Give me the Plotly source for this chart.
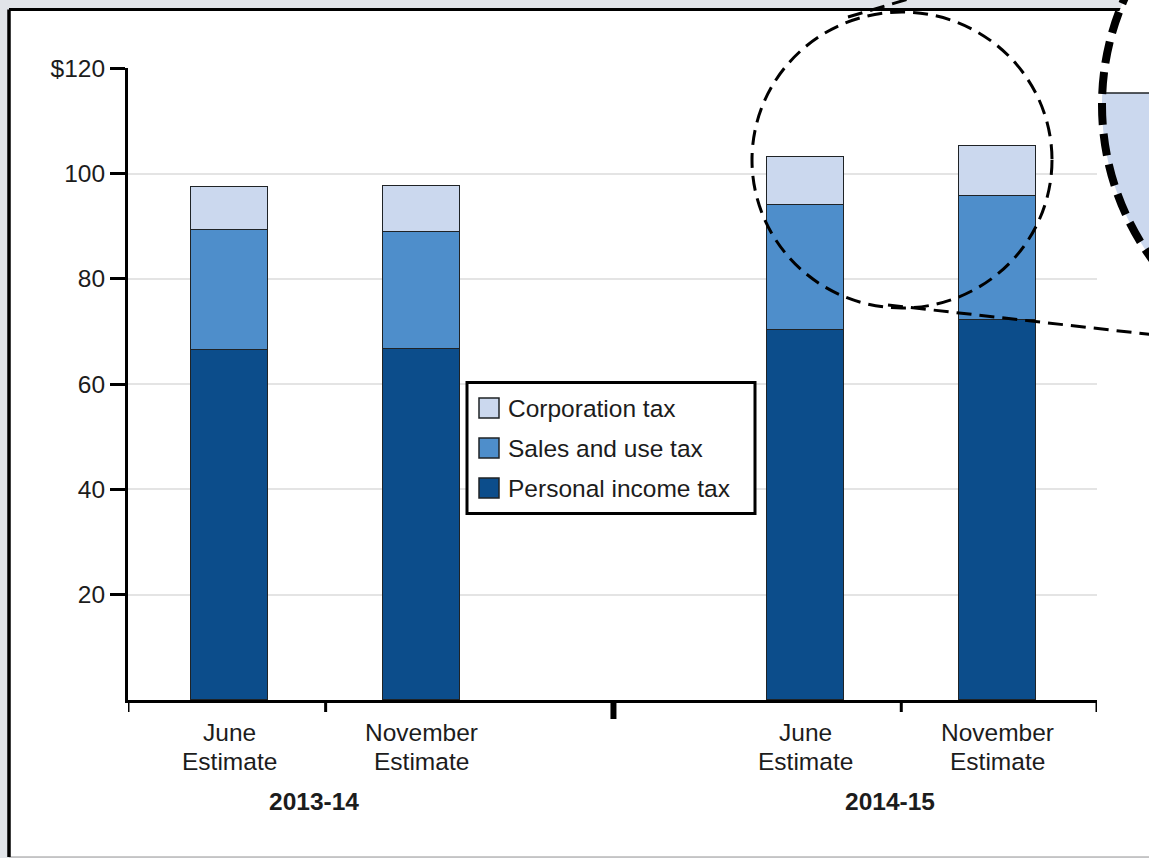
import plotly.graph_objects as go
import numpy as np

# ---- data ----
estimates = ["June<br>Estimate", "November<br>Estimate", "June<br>Estimate", "November<br>Estimate"]
fiscal_years = ["2013-14", "2014-15"]
personal_income_tax = [66.5, 66.6, 70.2, 72.1]
sales_and_use_tax = [22.7, 22.3, 23.8, 23.6]
corporation_tax = [8.2, 8.7, 9.1, 9.5]
ytick_vals = [20, 40, 60, 80, 100, 120]
ytick_text = ["20", "40", "60", "80", "100", "$120"]

# ---- styling ----
C_PIT = "#0c4d8b"
C_SALES = "#4e8ecb"
C_CORP = "#cbd8ee"
OUTLINE = "#1f2326"
PAGE = "#e1e4e9"
FONT = "Liberation Sans, Arial, Helvetica, sans-serif"
TXT = "#1c1c1c"
FS = 24.5

W, H = 1149, 858
L, R, T, B = 128, 1097, 68, 700  # plot area in pixels


def px(x):
    return (x - L) / (R - L)


def py(y):
    return (B - y) / (B - T)


# positions: two groups with a gap slot between them
pos = [i + (1 if i >= 2 else 0) for i in range(len(estimates))]
xr = [-0.53, 4.52]

fig = go.Figure()
for name, vals, col in [("Personal income tax", personal_income_tax, C_PIT),
                        ("Sales and use tax", sales_and_use_tax, C_SALES),
                        ("Corporation tax", corporation_tax, C_CORP)]:
    fig.add_trace(go.Bar(x=pos, y=vals, name=name, width=0.4,
                         marker=dict(color=col, line=dict(color=OUTLINE, width=1.5)),
                         showlegend=False))

shapes = []
annotations = []

# white frame on grey page
shapes.append(dict(type="rect", xref="paper", yref="paper", layer="below",
                   x0=px(9), x1=px(1250), y0=py(9.5), y1=py(857),
                   fillcolor="white", line=dict(width=0)))
shapes.append(dict(type="line", xref="paper", yref="paper", layer="below",
                   x0=px(9), x1=px(1250), y0=py(857), y1=py(857),
                   line=dict(color="#b8b8b8", width=1.5)))
shapes.append(dict(type="line", xref="paper", yref="paper", layer="below",
                   x0=px(9), x1=px(9), y0=py(9.5), y1=py(857),
                   line=dict(color="black", width=3.5)))
shapes.append(dict(type="line", xref="paper", yref="paper", layer="below",
                   x0=px(9), x1=px(1150), y0=py(9.5), y1=py(9.5),
                   line=dict(color="black", width=3)))

# x-axis ticks at group boundaries
bounds = [xr[0], (pos[0] + pos[1]) / 2, (pos[1] + pos[2]) / 2, (pos[2] + pos[3]) / 2, xr[1]]
for i, b in enumerate(bounds):
    thick = (i == 2)
    shapes.append(dict(type="line", xref="x", yref="paper",
                       x0=b, x1=b, y0=py(700), y1=py(719 if thick else 712),
                       line=dict(color="black", width=6 if thick else 3)))

# category labels
for p, lab in zip(pos, estimates):
    top, bot = lab.split("<br>")
    annotations.append(dict(x=p, xref="x", y=py(732), yref="paper", text=top,
                            showarrow=False, xanchor="center", yanchor="middle",
                            font=dict(family=FONT, size=FS, color=TXT)))
    annotations.append(dict(x=p, xref="x", y=py(761), yref="paper", text=bot,
                            showarrow=False, xanchor="center", yanchor="middle",
                            font=dict(family=FONT, size=FS, color=TXT)))
# fiscal year labels
groups = [(pos[0], pos[1]), (pos[2], pos[3])]
for (a, b), yr in zip(groups, fiscal_years):
    annotations.append(dict(x=(a + b) / 2 - 0.06, xref="x", y=py(801), yref="paper",
                            text="<b>%s</b>" % yr, showarrow=False,
                            xanchor="center", yanchor="middle",
                            font=dict(family=FONT, size=FS, color=TXT)))

# manual legend
shapes.append(dict(type="rect", xref="paper", yref="paper", layer="above",
                   x0=px(467), x1=px(755), y0=py(382.5), y1=py(513.5),
                   fillcolor="white", line=dict(color="black", width=3)))
leg_items = [("Corporation tax", C_CORP), ("Sales and use tax", C_SALES),
             ("Personal income tax", C_PIT)]
for k, (name, col) in enumerate(leg_items):
    cy = 408 + 40 * k
    shapes.append(dict(type="rect", xref="paper", yref="paper", layer="above",
                       x0=px(479), x1=px(499), y0=py(cy - 10), y1=py(cy + 10),
                       fillcolor=col, line=dict(color=OUTLINE, width=1.5)))
    annotations.append(dict(x=px(506), xref="paper", y=py(cy), yref="paper",
                            text=name, showarrow=False, xanchor="left", yanchor="middle",
                            font=dict(family=FONT, size=FS, color=TXT)))

# magnifier: small dashed circle
shapes.append(dict(type="circle", xref="paper", yref="paper", layer="above",
                   x0=px(752), x1=px(1052), y0=py(308), y1=py(12),
                   line=dict(color="black", width=3, dash="15px,8px")))
# tangent lines
shapes.append(dict(type="line", xref="paper", yref="paper", layer="above",
                   x0=px(888), y0=py(305), x1=px(1200), y1=py(340),
                   line=dict(color="black", width=3, dash="15px,8px")))
shapes.append(dict(type="line", xref="paper", yref="paper", layer="above",
                   x0=px(848), y0=py(17), x1=px(912), y1=py(-2),
                   line=dict(color="black", width=3, dash="15px,8px")))

# big magnified circle
cx, cy0, r = 1365, 105, 263
shapes.append(dict(type="circle", xref="paper", yref="paper", layer="above",
                   x0=px(cx - r), x1=px(cx + r), y0=py(cy0 + r), y1=py(cy0 - r),
                   fillcolor="white", line=dict(width=0)))
bar_top = 93
ys = np.linspace(bar_top, cy0 + r * 0.75, 60)
pts = [(cx - np.sqrt(r * r - (yy - cy0) ** 2), yy) for yy in ys]
pts += [(1260, pts[-1][1]), (1260, bar_top)]
path = "M " + " L ".join("%.5f,%.5f" % (px(a), py(b)) for a, b in pts) + " Z"
shapes.append(dict(type="path", xref="paper", yref="paper", layer="above",
                   path=path, fillcolor=C_CORP, line=dict(width=0)))
shapes.append(dict(type="line", xref="paper", yref="paper", layer="above",
                   x0=px(pts[0][0]), x1=px(1260), y0=py(bar_top), y1=py(bar_top),
                   line=dict(color=OUTLINE, width=1.5)))
shapes.append(dict(type="circle", xref="paper", yref="paper", layer="above",
                   x0=px(cx - r), x1=px(cx + r), y0=py(cy0 + r), y1=py(cy0 - r),
                   line=dict(color="black", width=8, dash="22px,9px")))

fig.update_layout(
    width=W, height=H,
    margin=dict(l=L, r=W - R, t=T, b=H - B, pad=0),
    paper_bgcolor=PAGE,
    plot_bgcolor="rgba(0,0,0,0)",
    barmode="stack",
    bargap=0,
    showlegend=False,
    font=dict(family=FONT, size=FS, color=TXT),
    shapes=shapes,
    annotations=annotations,
    xaxis=dict(range=xr, showgrid=False, zeroline=False, showticklabels=False,
               ticks="", showline=True, linecolor="black", linewidth=3,
               fixedrange=True),
    yaxis=dict(range=[0, 120.05], tickvals=ytick_vals, ticktext=ytick_text,
               ticks="outside", ticklen=15, tickwidth=3, tickcolor="black",
               showline=True, linecolor="black", linewidth=3,
               showgrid=True, gridcolor="#e4e4e4", gridwidth=1.5,
               zeroline=False, fixedrange=True,
               tickfont=dict(family=FONT, size=FS, color=TXT)),
)

fig.write_html(
    "out.html",
    config={"displayModeBar": False},
    post_script="document.body.style.margin='0';document.body.style.background='%s';"
                "document.body.style.overflow='hidden';" % PAGE,
)
